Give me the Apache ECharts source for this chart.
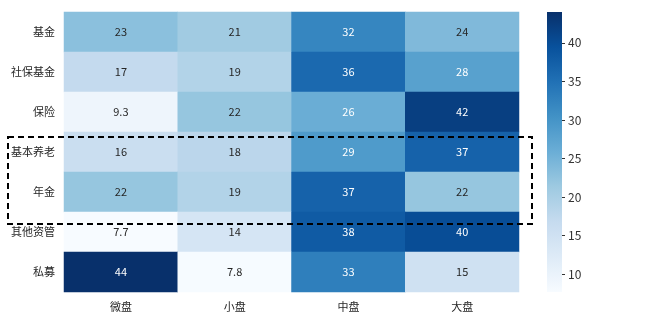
<!DOCTYPE html>
<html>
<head>
<meta charset="utf-8">
<script src="https://cdn.jsdelivr.net/npm/echarts@6/dist/echarts.min.js"></script>
<style>
  html, body { margin: 0; padding: 0; background: #fff; }
  #chart { width: 645px; height: 323px; }
</style>
</head>
<body>
<div id="chart"></div>
<script>
// Institution types (rows, top to bottom) and market-cap buckets (columns)
const rows = ['基金', '社保基金', '保险', '基本养老', '年金', '其他资管', '私募'];
const cols = ['微盘', '小盘', '中盘', '大盘'];

// One array of values per row, in column order
const fund       = [23, 21, 32, 24];
const socialFund = [17, 19, 36, 28];
const insurance  = [9.3, 22, 26, 42];
const pension    = [16, 18, 29, 37];
const annuity    = [22, 19, 37, 22];
const otherAM    = [7.7, 14, 38, 40];
const privateEq  = [44, 7.8, 33, 15];

const matrix = [fund, socialFund, insurance, pension, annuity, otherAM, privateEq];

// Colour bar ticks
const barTicks = [10, 15, 20, 25, 30, 35, 40];

const blues = ['#f7fbff', '#deebf7', '#c6dbef', '#9ecae1', '#6baed6',
               '#4292c6', '#2171b5', '#08519c', '#08306b'];

const flat = matrix.flat();
const vMin = Math.min(...flat);
const vMax = Math.max(...flat);

const cellData = [];
matrix.forEach((vals, r) => {
  vals.forEach((v, c) => {
    const t = (v - vMin) / (vMax - vMin);
    cellData.push({
      value: [c, r, v],
      label: { color: t > 0.48 ? '#ffffff' : '#262626' }
    });
  });
});

const font = '"Noto Sans CJK SC", sans-serif';

const chart = echarts.init(document.getElementById('chart'), null, { renderer: 'canvas' });
chart.setOption({
  animation: false,
  backgroundColor: '#ffffff',
  grid: [
    { left: 64, top: 12, width: 455, height: 280 },
    { left: 547, top: 12, width: 15, height: 280 }
  ],
  xAxis: [
    {
      type: 'category', data: cols, gridIndex: 0,
      axisLine: { show: false }, axisTick: { show: false },
      axisLabel: { color: '#262626', fontSize: 11, fontFamily: font, margin: 9 },
      splitLine: { show: false }
    },
    {
      type: 'category', data: [''], gridIndex: 1,
      axisLine: { show: false }, axisTick: { show: false }, axisLabel: { show: false }
    }
  ],
  yAxis: [
    {
      type: 'category', data: rows, inverse: true, gridIndex: 0,
      axisLine: { show: false }, axisTick: { show: false },
      axisLabel: { color: '#262626', fontSize: 11, fontFamily: font, margin: 9 },
      splitLine: { show: false }
    },
    {
      type: 'value', gridIndex: 1, position: 'right', min: vMin, max: vMax,
      axisLine: { show: false },
      splitLine: { show: false },
      axisTick: { show: true, length: 3, lineStyle: { color: '#333' }, customValues: barTicks },
      axisLabel: { color: '#333', fontSize: 12, fontFamily: font, margin: 6, customValues: barTicks }
    }
  ],
  visualMap: {
    show: false, type: 'continuous', seriesIndex: 0,
    min: vMin, max: vMax, dimension: 2,
    inRange: { color: blues }
  },
  series: [
    {
      type: 'heatmap', xAxisIndex: 0, yAxisIndex: 0,
      data: cellData,
      label: { show: true, fontSize: 11, fontFamily: font },
      itemStyle: { borderWidth: 0 }
    },
    {
      // colour bar, filled with the same ramp from vMin to vMax
      type: 'bar', xAxisIndex: 1, yAxisIndex: 1,
      data: [vMax], barWidth: '100%', silent: true,
      itemStyle: {
        color: new echarts.graphic.LinearGradient(0, 1, 0, 0,
          blues.map((c, i) => ({ offset: i / (blues.length - 1), color: c })))
      }
    }
  ],
  graphic: [
    {
      // dashed highlight around the pension / annuity rows
      type: 'rect', z: 100,
      shape: { x: 8, y: 137, width: 524, height: 87 },
      style: { fill: 'none', stroke: '#000', lineWidth: 2, lineDash: [6, 4] }
    }
  ]
});
</script>
</body>
</html>
